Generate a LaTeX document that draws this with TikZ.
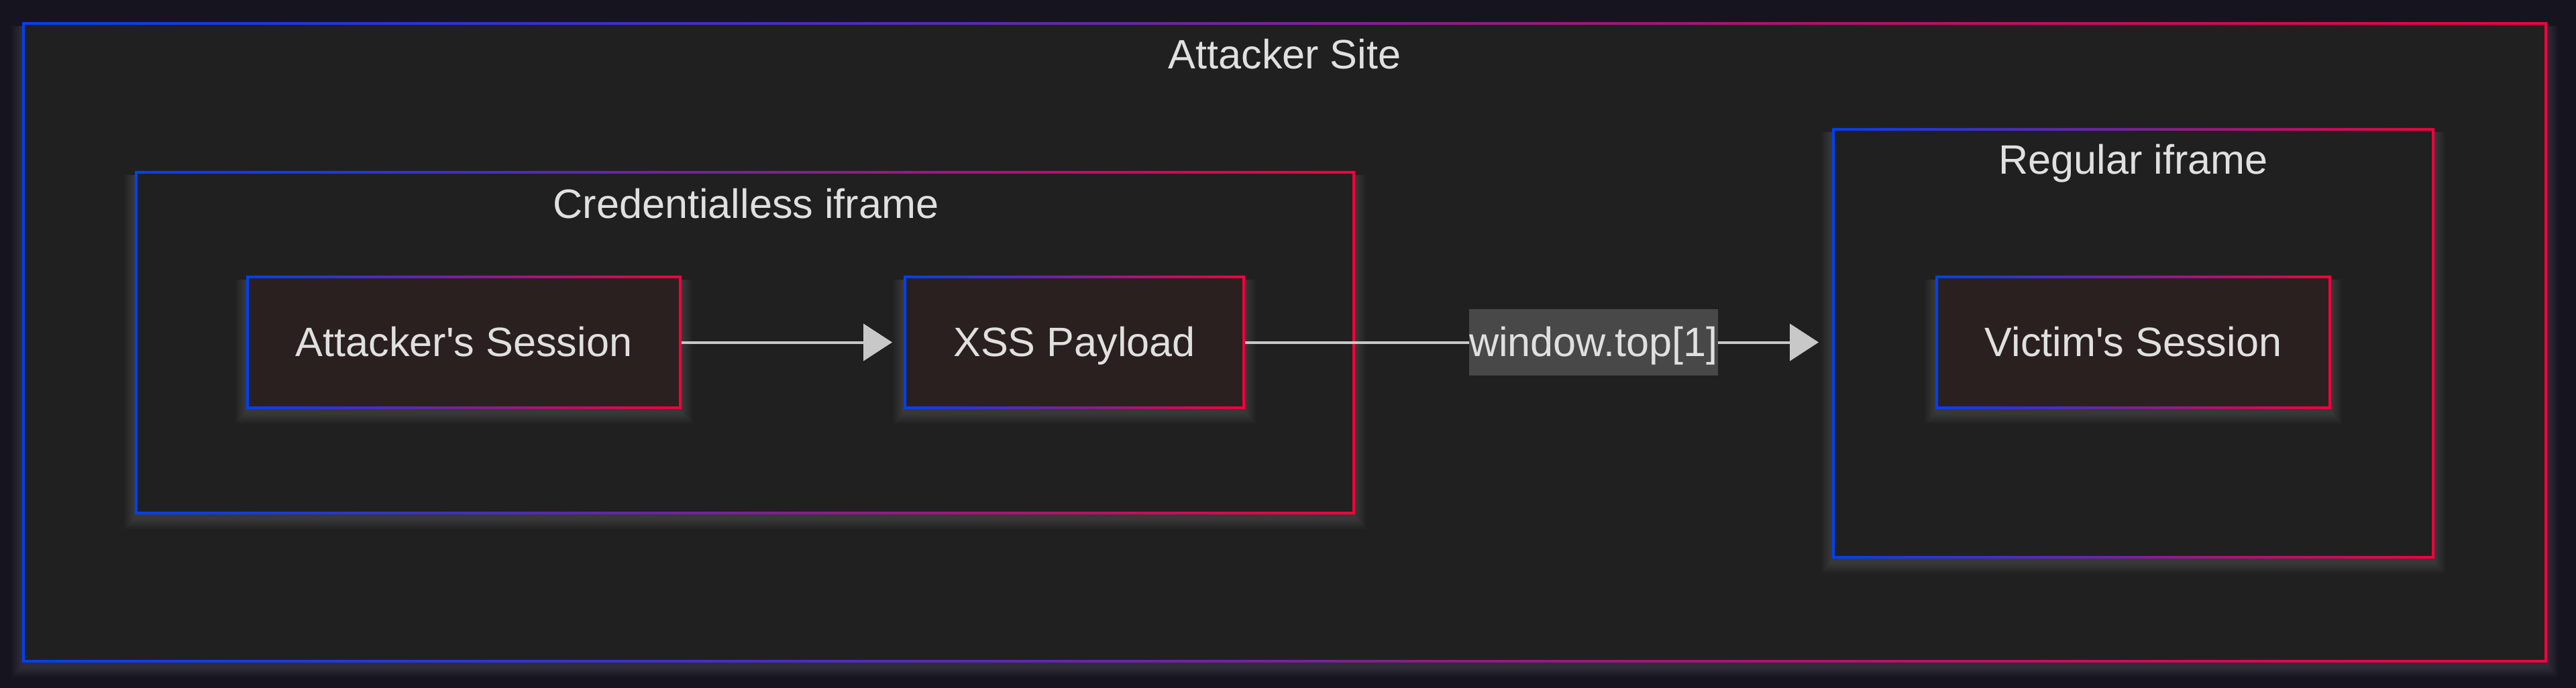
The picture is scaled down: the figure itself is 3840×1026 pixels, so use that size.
\documentclass[tikz,border=0pt]{standalone}
\usepackage{fontspec}
\setmainfont{Liberation Sans}
\usetikzlibrary{arrows.meta}
\definecolor{pagebg}{HTML}{16141F}
\definecolor{boxbg}{HTML}{202020}
\definecolor{nodebg}{HTML}{2B2020}
\definecolor{cblue}{HTML}{0040F5}
\definecolor{cred}{HTML}{F5003C}
\definecolor{txt}{HTML}{E0E0E0}
\definecolor{linec}{HTML}{C8C8C8}
\definecolor{lblbg}{HTML}{484848}
\newcommand{\gframe}[1]{\shade[left color=cblue,right color=cred,even odd rule] (#1.north west) rectangle (#1.south east) ([shift={(4,4)}]#1.north west) rectangle ([shift={(-4,-4)}]#1.south east);}
\newcommand{\softshadow}[4]{\foreach \r in {2,4,...,16}{\fill[white,opacity=0.016] ({#1-\r},{#2+6}) rectangle ({#3+\r},{#4+6+\r});}}
\tikzset{
  box/.style={rectangle, inner sep=0pt, outer sep=0pt, fill=boxbg},
  leaf/.style={rectangle, inner sep=0pt, outer sep=0pt, fill=nodebg, text=txt, font=\fontsize{15.3pt}{18pt}\selectfont, minimum height=49.75pt, text height=12.4pt, text depth=1.8pt},
  ttl/.style={text=txt, font=\fontsize{15.3pt}{18pt}\selectfont, inner sep=0pt, text height=12.4pt, text depth=1.8pt},
  conn/.style={draw=linec, line width=1pt, -{Triangle[length=10.75pt,width=13.75pt]}},
  lbl/.style={fill=lblbg, text=txt, font=\fontsize{15.3pt}{18pt}\selectfont, inner xsep=0pt, inner ysep=0pt, minimum height=24.5pt, text height=12.4pt, text depth=1.8pt}
}
\begin{document}
\begin{tikzpicture}[x=0.25pt,y=-0.25pt]
\fill[pagebg] (0,0) rectangle (3840,1026);
\useasboundingbox (0,0) rectangle (3840,1026);
% outer cluster
\softshadow{33}{33}{3797}{988}
\node[box, minimum width=941pt, minimum height=238.75pt] (site) at (1915,510.5) {};
\gframe{site}
\node[ttl] (sitettl) at (1915,81) {Attacker Site};
% credentialless cluster
\softshadow{201}{255}{2020}{767}
\node[box, minimum width=454.75pt, minimum height=128pt] (cred) at (1110.5,511) {};
\gframe{cred}
\node[ttl] (credttl) at (1112,304) {Credentialless iframe};
% regular cluster
\softshadow{2731}{191}{3629}{833}
\node[box, minimum width=224.5pt, minimum height=160.5pt] (reg) at (3180,512) {};
\gframe{reg}
\node[ttl] (regttl) at (3180,238) {Regular iframe};
% leaf nodes
\softshadow{367}{411}{1016}{610}
\node[leaf, minimum width=162.25pt] (att) at (691.5,510.5) {Attacker\textquotesingle s Session};
\gframe{att}
\softshadow{1347}{411}{1856}{610}
\node[leaf, minimum width=127.25pt] (xss) at (1601.5,510.5) {XSS Payload};
\gframe{xss}
\softshadow{2885}{411}{3475}{610}
\node[leaf, minimum width=147.5pt] (vic) at (3180,510.5) {Victim\textquotesingle s Session};
\gframe{vic}
% connectors
\draw[conn, shorten >=4.25pt] (att.east) -- (xss.west);
\draw[conn, shorten >=5pt] (xss.east) -- (xss.east -| reg.west) node[lbl, pos=0.5937] (wlbl) {window.top[1]};
\end{tikzpicture}
\end{document}
